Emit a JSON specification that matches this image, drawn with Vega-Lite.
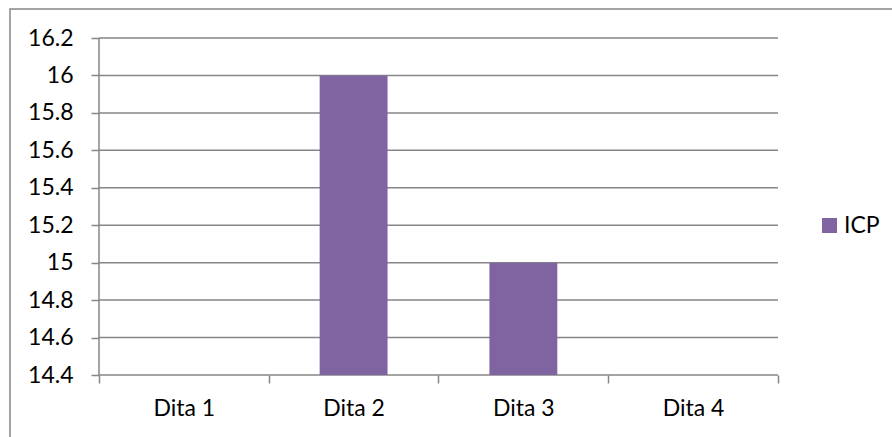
{
  "$schema": "https://vega.github.io/schema/vega-lite/v6.json",
  "autosize": "none",
  "width": 884,
  "height": 430,
  "padding": {"left": 10, "top": 9, "right": -2, "bottom": -2},
  "background": "white",
  "layer": [
    {
      "data": {"values": [
        {"grid": 14.4}, {"grid": 14.6}, {"grid": 14.8}, {"grid": 15}, {"grid": 15.2},
        {"grid": 15.4}, {"grid": 15.6}, {"grid": 15.8}, {"grid": 16}, {"grid": 16.2}
      ]},
      "mark": {"type": "rule", "color": "#868686", "strokeWidth": 1.5},
      "encoding": {
        "y": {"field": "grid", "type": "quantitative", "title": null},
        "x": {"datum": "Dita 1", "type": "nominal", "bandPosition": 0, "title": null},
        "x2": {"datum": "Dita 4", "bandPosition": 1}
      }
    },
    {
      "data": {"values": [{"top": 16.2, "bottom": 14.4}]},
      "mark": {"type": "rule", "color": "#868686", "strokeWidth": 1.5},
      "encoding": {
        "y": {"field": "top", "type": "quantitative", "title": null},
        "y2": {"field": "bottom"},
        "x": {"datum": "Dita 1", "type": "nominal", "bandPosition": 0, "title": null}
      }
    },
    {
      "data": {
        "values": [
          {"day": "Dita 1", "series": "ICP", "value": null},
          {"day": "Dita 2", "series": "ICP", "value": 16},
          {"day": "Dita 3", "series": "ICP", "value": 15},
          {"day": "Dita 4", "series": "ICP", "value": null}
        ]
      },
      "mark": {"type": "bar", "width": {"band": 0.4}},
      "encoding": {
        "x": {
          "field": "day",
          "type": "nominal",
          "scale": {"domain": ["Dita 1", "Dita 2", "Dita 3", "Dita 4"], "paddingInner": 0, "paddingOuter": 0.6038, "align": 0.4341},
          "axis": {
            "title": null,
            "labelAngle": 0,
            "labelAlign": "center",
            "labelBaseline": "top",
            "tickBand": "extent",
            "tickSize": 8,
            "labelPadding": 14,
            "offset": -64,
            "domain": false,
            "grid": false
          }
        },
        "y": {
          "field": "value",
          "type": "quantitative",
          "scale": {"domain": [14.0582, 16.3549], "zero": false, "nice": false},
          "axis": {
            "title": null,
            "values": [14.4, 14.6, 14.8, 15, 15.2, 15.4, 15.6, 15.8, 16, 16.2],
            "format": "~g",
            "tickSize": 8,
            "labelPadding": 18,
            "offset": -89,
            "domain": false,
            "grid": false
          }
        },
        "y2": {"datum": 14.4},
        "color": {
          "field": "series",
          "type": "nominal",
          "scale": {"range": ["#8064A2"]},
          "legend": {
            "title": null,
            "orient": "none",
            "legendX": 808,
            "legendY": 205,
            "symbolType": "square",
            "symbolSize": 225,
            "symbolStrokeWidth": 0,
            "labelFontSize": 23,
            "labelFont": "Lato",
            "labelColor": "black",
            "labelOffset": 3
          }
        }
      }
    }
  ],
  "config": {
    "view": {"stroke": "#868686", "strokeWidth": 1.5},
    "axis": {
      "labelFont": "Lato",
      "labelFontSize": 23,
      "labelColor": "black",
      "tickColor": "#868686",
      "tickWidth": 1.5
    }
  }
}
